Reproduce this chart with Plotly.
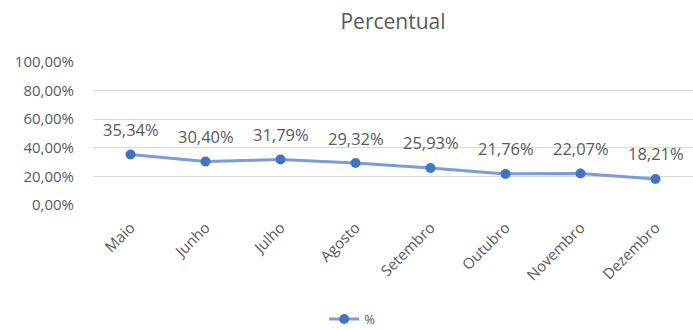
import plotly.graph_objects as go

months = ["Maio", "Junho", "Julho", "Agosto", "Setembro", "Outubro", "Novembro", "Dezembro"]
values = [0.3534, 0.3040, 0.3179, 0.2932, 0.2593, 0.2176, 0.2207, 0.1821]
labels = ["35,34%", "30,40%", "31,79%", "29,32%", "25,93%", "21,76%", "22,07%", "18,21%"]
y_ticks = [0, 0.2, 0.4, 0.6, 0.8, 1.0]
y_tick_text = ["0,00%", "20,00%", "40,00%", "60,00%", "80,00%", "100,00%"]

font_family = "Open Sans, Liberation Sans, sans-serif"
text_color = "#595959"

fig = go.Figure()
fig.add_trace(go.Scatter(
    x=months, y=values, name="%", mode="lines+markers",
    line=dict(color="#7b9dd6", width=3),
    marker=dict(color="#4472C4", size=10),
    cliponaxis=False,
))

for m, v, t in zip(months, values, labels):
    fig.add_annotation(x=m, y=v, text=t, showarrow=False, yanchor="middle",
                       yshift=25, font=dict(size=16.5, color=text_color, family=font_family))

fig.update_layout(
    width=693, height=330,
    margin=dict(l=93, r=0, t=62, b=125),
    paper_bgcolor="white", plot_bgcolor="white",
    title=dict(text="Percentual", x=0.5, xref="paper", xanchor="center",
               y=1 - 22 / 330, yanchor="middle",
               font=dict(size=21, color=text_color, family=font_family)),
    font=dict(family=font_family, color=text_color, size=13),
    showlegend=True,
    legend=dict(orientation="h", x=0.432, xanchor="center",
                yref="container", y=11 / 330, yanchor="middle",
                font=dict(size=13, color=text_color), itemwidth=30),
    xaxis=dict(showgrid=False, showline=False, ticks="", tickangle=-45, automargin=False,
               ticklabelstandoff=10,
               tickfont=dict(size=15, color=text_color), range=[-0.5, 7.5]),
    yaxis=dict(range=[0, 1], tickvals=y_ticks, ticktext=y_tick_text, automargin=False,
               showgrid=True, gridcolor="#d9d9d9", gridwidth=1, zeroline=False,
               showline=False, ticks="", ticklen=0, ticklabelstandoff=18,
               tickfont=dict(size=15, color=text_color)),
)

fig.write_html("out.html", config={"displayModeBar": False},
               post_script="document.body.style.margin='0';")
